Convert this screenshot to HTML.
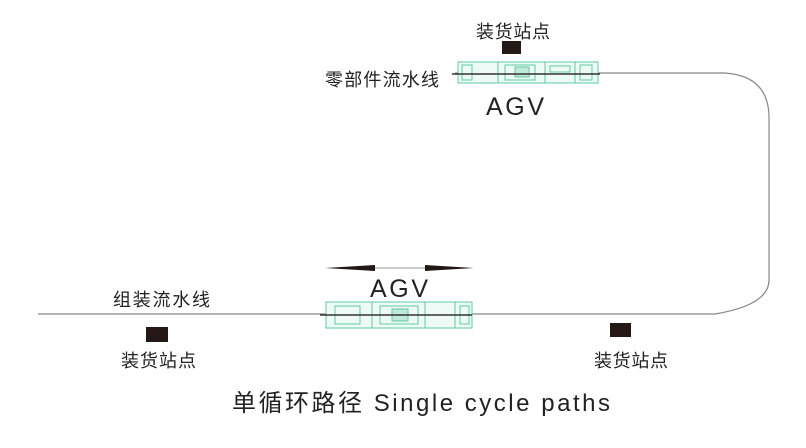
<!DOCTYPE html>
<html><head><meta charset="utf-8"><style>
html,body{margin:0;padding:0;background:#fff;}
svg text{font-family:"Liberation Sans","Noto Sans CJK SC",sans-serif;fill:#222;}
</style></head><body>
<svg width="806" height="443" viewBox="0 0 806 443" xmlns="http://www.w3.org/2000/svg">
<path d="M455 73 L725 73 Q769 76 769 118 L769 280 Q769 305 715 314 L38 314" fill="none" stroke="#888" stroke-width="1.2"/>
<g stroke="#5fc9a4" stroke-width="1" fill="none">
<rect x="458" y="62" width="140" height="21" fill="#eefaf5"/>
<line x1="498" y1="62" x2="498" y2="83"/><line x1="545" y1="62" x2="545" y2="83"/>
<line x1="575" y1="62" x2="575" y2="83"/>
<rect x="505" y="65" width="30" height="15"/><rect x="580" y="65" width="12" height="15"/>
<rect x="462" y="65" width="10" height="15"/><rect x="550" y="66" width="20" height="6"/>
<rect x="515" y="67" width="14" height="10" fill="#bfe9d8"/>
</g>
<line x1="452" y1="74" x2="600" y2="74" stroke="#333" stroke-width="1.5"/>
<rect x="502" y="41" width="19" height="13" fill="#231815"/>
<text x="476" y="38" font-size="18" textLength="74">装货站点</text>
<text x="325" y="86" font-size="18" textLength="114">零部件流水线</text>
<text x="486" y="115" font-size="25" textLength="58">AGV</text>
<g stroke="#5fc9a4" stroke-width="1" fill="none">
<rect x="326" y="302" width="146" height="26" fill="#eefaf5"/>
<line x1="372" y1="302" x2="372" y2="328"/><line x1="425" y1="302" x2="425" y2="328"/>
<line x1="455" y1="302" x2="455" y2="328"/>
<rect x="380" y="306" width="38" height="18"/><rect x="460" y="306" width="9" height="18"/>
<rect x="335" y="306" width="25" height="18"/>
<rect x="392" y="309" width="16" height="12" fill="#bfe9d8"/>
</g>
<line x1="320" y1="315" x2="472" y2="315" stroke="#333" stroke-width="1.5"/>
<line x1="340" y1="268" x2="460" y2="268" stroke="#999" stroke-width="1"/>
<polygon points="325,268 375,265 375,271" fill="#231815"/>
<polygon points="474,268 425,265 425,271" fill="#231815"/>
<text x="370" y="297" font-size="25" textLength="58">AGV</text>
<text x="113" y="306" font-size="18" textLength="97">组装流水线</text>
<rect x="146" y="327" width="22" height="15" fill="#231815"/>
<text x="121" y="367" font-size="18" textLength="75">装货站点</text>
<rect x="610" y="323" width="21" height="14" fill="#231815"/>
<text x="594" y="367" font-size="18" textLength="74">装货站点</text>
<text x="232" y="411" font-size="24" textLength="378">单循环路径 Single cycle paths</text>
</svg>
</body></html>
